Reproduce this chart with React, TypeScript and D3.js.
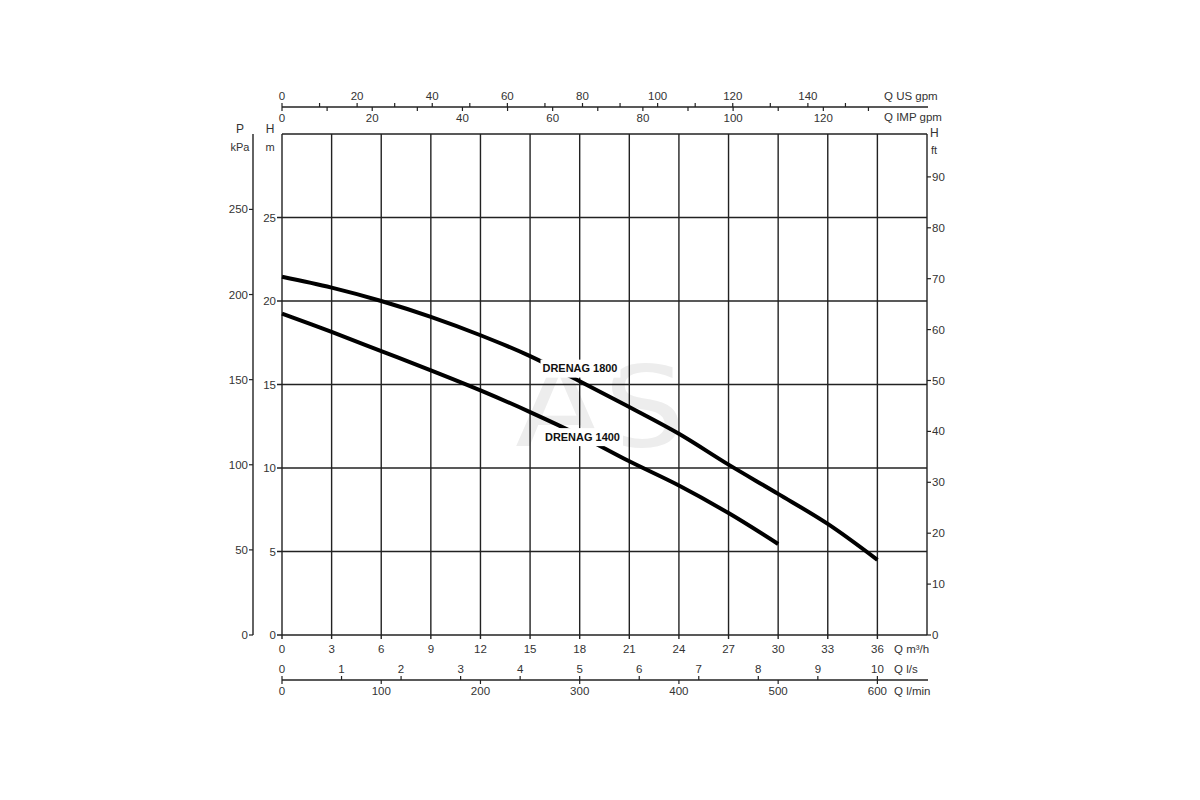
import React from 'react';
import * as d3 from 'd3';

// Flow axis, m³/h, and head, m
const flowMax = 39;
const headMax = 30;

const flowTicks = [0, 3, 6, 9, 12, 15, 18, 21, 24, 27, 30, 33, 36];
const headTicks = [0, 5, 10, 15, 20, 25];
const kpaTicks = [0, 50, 100, 150, 200, 250];
const ftTicks = [0, 10, 20, 30, 40, 50, 60, 70, 80, 90];
const usMajor = [0, 20, 40, 60, 80, 100, 120, 140];
const usMinor = [10, 30, 50, 70, 90, 110, 130, 150];
const impMajor = [0, 20, 40, 60, 80, 100, 120];
const impMinor = [10, 30, 50, 70, 90, 110, 130];
const lsTicks = [0, 1, 2, 3, 4, 5, 6, 7, 8, 9, 10];
const lminTicks = [0, 100, 200, 300, 400, 500, 600];

// Pump curves
const q1800 = [0, 3, 6, 9, 12, 15, 18, 21, 24, 27, 30, 33, 36];
const h1800 = [21.45, 20.8, 20.0, 19.05, 17.95, 16.7, 15.2, 13.65, 12.05, 10.2, 8.45, 6.65, 4.5];
const q1400 = [0, 3, 6, 9, 12, 15, 18, 21, 24, 27, 30];
const h1400 = [19.25, 18.15, 17.0, 15.85, 14.65, 13.35, 11.95, 10.4, 8.95, 7.3, 5.45];

const curves = [
  { name: 'DRENAG 1800', q: q1800, h: h1800, labelQ: 15.75, labelH: 15.95 },
  { name: 'DRENAG 1400', q: q1400, h: h1400, labelQ: 15.9, labelH: 11.85 },
];

const W = 1200;
const H = 800;
const left = 282;
const right = 927;
const top = 134;
const bottom = 635;
const pAxisX = 253;
const topAxisY = 107;
const botAxisY = 680;

const ink = '#222';
const txt = '#333';
const font = '"Liberation Sans", Arial, sans-serif';

export default function App() {
  const x = d3.scaleLinear().domain([0, flowMax]).range([left, right]);
  const y = d3.scaleLinear().domain([0, headMax]).range([bottom, top]);
  const yKpa = d3.scaleLinear().domain([0, headMax * 9.81]).range([bottom, top]);
  const yFt = d3.scaleLinear().domain([0, headMax / 0.3048]).range([bottom, top]);
  const xUs = d3.scaleLinear().domain([0, flowMax * 4.4029]).range([left, right]);
  const xImp = d3.scaleLinear().domain([0, flowMax * 3.6662]).range([left, right]);
  const xLs = d3.scaleLinear().domain([0, flowMax / 3.6]).range([left, right]);
  const xLmin = d3.scaleLinear().domain([0, (flowMax * 1000) / 60]).range([left, right]);

  const pathFor = (q: number[], h: number[]) =>
    d3
      .line<number>()
      .x((d) => x(d))
      .y((_, i) => y(h[i]))
      .curve(d3.curveCatmullRom.alpha(0.5))(q) || '';

  return (
    <div style={{ position: 'absolute', left: 0, top: 0, width: W, height: H, background: '#fff' }}>
      <svg width={W} height={H} fontFamily={font} style={{ display: 'block' }}>
        <rect width={W} height={H} fill="#fff" />

        {/* watermark */}
        <text
          x={(x(14) + x(24.5)) / 2}
          y={y(11.3)}
          textAnchor="middle"
          fontSize={112}
          fill="#ededed"
          fontFamily='"DejaVu Sans", sans-serif'
          textLength={170}
          lengthAdjust="spacingAndGlyphs"
        >
          AS
        </text>

        {/* vertical grid */}
        {flowTicks.concat([flowMax]).map((q) => (
          <line key={'gx' + q} x1={x(q)} x2={x(q)} y1={top} y2={q === flowMax ? bottom : bottom + 4} stroke={ink} strokeWidth={1.4} />
        ))}
        {/* horizontal grid */}
        {headTicks.concat([headMax]).map((h) => (
          <line key={'gy' + h} x1={left - (h === headMax ? 0 : 5)} x2={right} y1={y(h)} y2={y(h)} stroke={ink} strokeWidth={1.4} />
        ))}

        {/* H m labels */}
        {headTicks.map((h) => (
          <text key={'hl' + h} x={left - 6} y={y(h)} dy="0.35em" textAnchor="end" fontSize={11.5} fill={txt}>
            {h}
          </text>
        ))}
        <text x={270} y={133} textAnchor="middle" fontSize={12} fill={txt}>H</text>
        <text x={270} y={151} textAnchor="middle" fontSize={11} fill={txt}>m</text>

        {/* P kPa axis */}
        <line x1={pAxisX} x2={pAxisX} y1={top} y2={bottom} stroke={ink} strokeWidth={1.4} />
        {kpaTicks.map((p) => (
          <g key={'kp' + p}>
            <line x1={pAxisX - 4} x2={pAxisX} y1={yKpa(p)} y2={yKpa(p)} stroke={ink} strokeWidth={1.2} />
            <text x={pAxisX - 5} y={yKpa(p)} dy="0.35em" textAnchor="end" fontSize={11.5} fill={txt}>
              {p}
            </text>
          </g>
        ))}
        <text x={240} y={133} textAnchor="middle" fontSize={12} fill={txt}>P</text>
        <text x={240} y={151} textAnchor="middle" fontSize={11} fill={txt}>kPa</text>

        {/* H ft axis */}
        {ftTicks.map((f) => (
          <g key={'ft' + f}>
            <line x1={right} x2={right + 4} y1={yFt(f)} y2={yFt(f)} stroke={ink} strokeWidth={1.2} />
            <text x={right + 5} y={yFt(f)} dy="0.35em" fontSize={11.5} fill={txt}>
              {f}
            </text>
          </g>
        ))}
        <text x={930} y={137} fontSize={12} fill={txt}>H</text>
        <text x={931} y={154} fontSize={11} fill={txt}>ft</text>

        {/* Q m³/h labels */}
        {flowTicks.map((q) => (
          <text key={'ql' + q} x={x(q)} y={bottom + 14} dy="0.35em" textAnchor="middle" fontSize={11.5} fill={txt}>
            {q}
          </text>
        ))}
        <text x={894} y={bottom + 14} dy="0.35em" fontSize={11.5} fill={txt}>Q m³/h</text>

        {/* top gpm axis */}
        <line x1={left} x2={right + 1} y1={topAxisY} y2={topAxisY} stroke={ink} strokeWidth={1.3} />
        {usMajor.concat(usMinor).map((g) => (
          <line key={'us' + g} x1={xUs(g)} x2={xUs(g)} y1={topAxisY - 4} y2={topAxisY} stroke={ink} strokeWidth={1.2} />
        ))}
        {usMajor.map((g) => (
          <text key={'usl' + g} x={xUs(g)} y={topAxisY - 11} dy="0.35em" textAnchor="middle" fontSize={11.5} fill={txt}>
            {g}
          </text>
        ))}
        {impMajor.concat(impMinor).map((g) => (
          <line key={'imp' + g} x1={xImp(g)} x2={xImp(g)} y1={topAxisY} y2={topAxisY + 4} stroke={ink} strokeWidth={1.2} />
        ))}
        {impMajor.map((g) => (
          <text key={'impl' + g} x={xImp(g)} y={topAxisY + 11} dy="0.35em" textAnchor="middle" fontSize={11.5} fill={txt}>
            {g}
          </text>
        ))}
        <text x={884} y={topAxisY - 11} dy="0.35em" fontSize={11.5} fill={txt}>Q US gpm</text>
        <text x={884} y={topAxisY + 10} dy="0.35em" fontSize={11.5} fill={txt}>Q IMP gpm</text>

        {/* bottom l/s and l/min axis */}
        <line x1={left} x2={right + 1} y1={botAxisY} y2={botAxisY} stroke={ink} strokeWidth={1.3} />
        {lsTicks.map((v) => (
          <g key={'ls' + v}>
            <line x1={xLs(v)} x2={xLs(v)} y1={botAxisY - 4} y2={botAxisY} stroke={ink} strokeWidth={1.2} />
            <text x={xLs(v)} y={botAxisY - 11} dy="0.35em" textAnchor="middle" fontSize={11.5} fill={txt}>
              {v}
            </text>
          </g>
        ))}
        {lminTicks.map((v) => (
          <g key={'lm' + v}>
            <line x1={xLmin(v)} x2={xLmin(v)} y1={botAxisY} y2={botAxisY + 4} stroke={ink} strokeWidth={1.2} />
            <text x={xLmin(v)} y={botAxisY + 11} dy="0.35em" textAnchor="middle" fontSize={11.5} fill={txt}>
              {v}
            </text>
          </g>
        ))}
        <text x={894} y={botAxisY - 11} dy="0.35em" fontSize={11.5} fill={txt}>Q l/s</text>
        <text x={894} y={botAxisY + 11} dy="0.35em" fontSize={11.5} fill={txt}>Q l/min</text>

        {/* pump curves */}
        {curves.map((c) => (
          <path key={c.name} d={pathFor(c.q, c.h)} fill="none" stroke="#000" strokeWidth={4} strokeLinecap="butt" />
        ))}
        {curves.map((c) => (
          <g key={'lab' + c.name}>
            <rect x={x(c.labelQ) - 2} y={y(c.labelH) - 9} width={80} height={18} fill="#fff" />
            <text x={x(c.labelQ)} y={y(c.labelH)} dy="0.35em" fontSize={11} fontWeight="bold" fill="#111" textLength={75} lengthAdjust="spacingAndGlyphs">
              {c.name}
            </text>
          </g>
        ))}
      </svg>
    </div>
  );
}
